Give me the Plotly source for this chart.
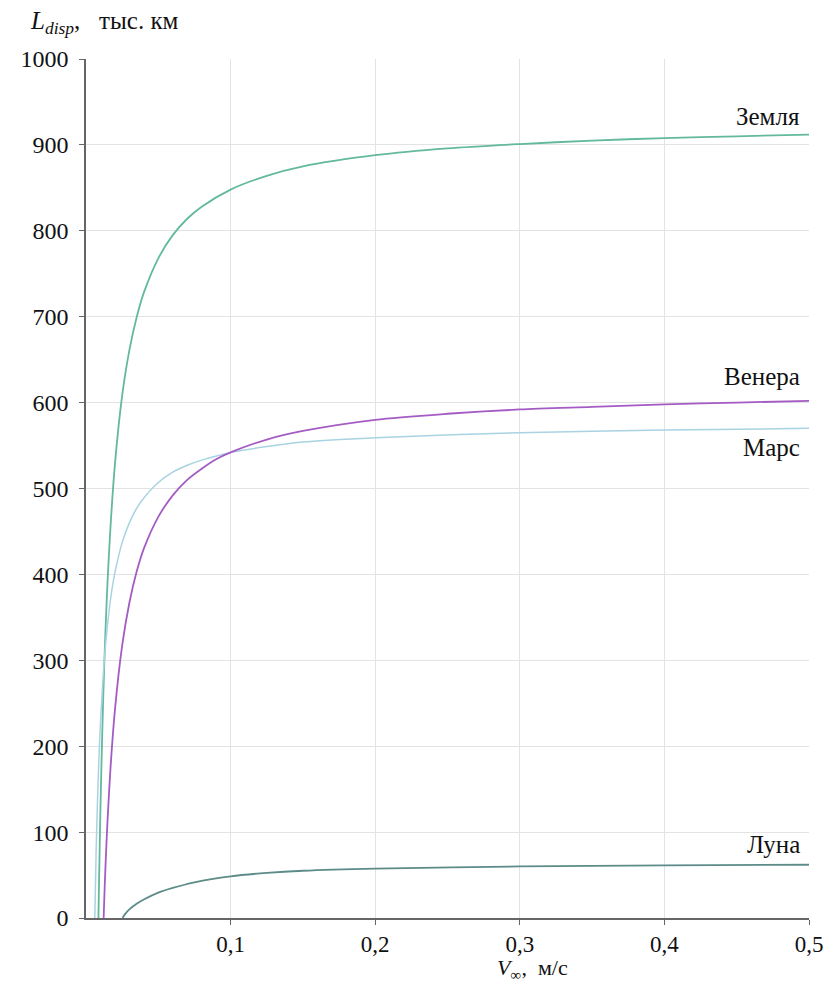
import plotly.graph_objects as go

# ---- data ----
earth_v = [0.0086, 0.009, 0.010, 0.011, 0.012, 0.013, 0.014, 0.015, 0.017, 0.020, 0.025, 0.030,
           0.035, 0.040, 0.050, 0.060, 0.070, 0.080, 0.100, 0.125, 0.150, 0.200, 0.250, 0.300,
           0.350, 0.400, 0.450, 0.500]
earth_L = [0, 40, 128, 200, 261, 313, 357, 395, 457, 528, 608, 661,
           699, 728, 768, 795, 814, 828, 848, 864, 875, 888, 896, 901,
           905, 908, 910, 912]

venus_v = [0.0122, 0.013, 0.014, 0.015, 0.017, 0.020, 0.025, 0.030, 0.035, 0.040, 0.050, 0.060,
           0.070, 0.080, 0.090, 0.100, 0.125, 0.150, 0.200, 0.250, 0.300, 0.350, 0.400, 0.450, 0.500]
venus_L = [0, 40, 81, 117, 176, 242, 317, 367, 403, 430, 467, 492,
           510, 523, 534, 542, 557, 567, 580, 587, 592, 595, 598, 600, 602]

mars_v = [0.0061, 0.007, 0.008, 0.009, 0.010, 0.012, 0.014, 0.016, 0.018, 0.020, 0.025, 0.030,
          0.035, 0.040, 0.050, 0.060, 0.070, 0.080, 0.100, 0.150, 0.200, 0.300, 0.400, 0.500]
mars_L = [0, 77, 139, 188, 227, 285, 327, 358, 383, 402, 437, 460,
          477, 489, 507, 519, 527, 533, 542, 554, 559, 565, 568, 570]

moon_v = [0.0253, 0.027, 0.030, 0.035, 0.040, 0.050, 0.060, 0.075, 0.100, 0.125, 0.150, 0.200,
          0.300, 0.400, 0.500]
moon_L = [0, 4.5, 10, 16.5, 21.5, 29.5, 35, 41.5, 48.5, 52.5, 55, 57.5, 60, 61.3, 62]

x_ticks = [0.1, 0.2, 0.3, 0.4, 0.5]
x_tick_text = ["0,1", "0,2", "0,3", "0,4", "0,5"]
y_ticks = [0, 100, 200, 300, 400, 500, 600, 700, 800, 900, 1000]
y_tick_text = [str(v) for v in y_ticks]

labels = ["Земля", "Венера", "Марс", "Луна"]
label_y = [933, 630, 548, 86]

FONT = "Liberation Serif, Times New Roman, serif"
TXT = "#111111"

# page body has an 8 px margin; compensate so the plot area lands where the reference has it
W, H = 828, 976
ML, MR, MT, MB = 71, 27, 51, 66
PW = W - ML - MR
PH = H - MT - MB

fig = go.Figure()
series = [
    (earth_v, earth_L, "#62b99c", 1.8),
    (mars_v, mars_L, "#a9d3e2", 1.5),
    (venus_v, venus_L, "#a45cc4", 1.8),
    (moon_v, moon_L, "#5d8c88", 1.8),
]
for xv, yv, col, w in series:
    fig.add_trace(go.Scatter(x=xv, y=yv, mode="lines",
                             line=dict(color=col, width=w, shape="spline", smoothing=0.8),
                             showlegend=False, hoverinfo="skip"))

for t, yv in zip(labels, label_y):
    fig.add_annotation(x=0.4955, y=yv, xref="x", yref="y", text=t, showarrow=False,
                       xanchor="right", yanchor="middle",
                       font=dict(family=FONT, size=25, color=TXT))

# axis titles as annotations (pixel targets converted to paper coords)
fig.add_annotation(x=(20 - 79) / PW, y=1 + (59 - 22) / PH, xref="paper", yref="paper",
                   text="<i>L</i><sub><i>disp</i></sub>,   тыс. км", showarrow=False,
                   xanchor="left", yanchor="middle",
                   font=dict(family=FONT, size=25, color=TXT))
fig.add_annotation(x=(530 - 79) / PW, y=-(969 - 918) / PH, xref="paper", yref="paper",
                   text="<i>V</i><sub>∞</sub>,  м/с", showarrow=False,
                   xanchor="center", yanchor="middle",
                   font=dict(family=FONT, size=22, color=TXT))

fig.update_layout(
    width=W, height=H,
    margin=dict(l=ML, r=MR, t=MT, b=MB),
    paper_bgcolor="white", plot_bgcolor="white",
    font=dict(family=FONT, size=24, color=TXT),
    xaxis=dict(range=[0, 0.5], tickvals=x_ticks, ticktext=x_tick_text,
               showgrid=True, gridcolor="#e3e3e3", gridwidth=1,
               showline=True, linecolor="#666", linewidth=1.5,
               ticks="outside", ticklen=5, tickcolor="#666",
               zeroline=False, tickfont=dict(family=FONT, size=23, color=TXT)),
    yaxis=dict(range=[0, 1000], tickvals=y_ticks, ticktext=y_tick_text,
               showgrid=True, gridcolor="#e3e3e3", gridwidth=1,
               showline=True, linecolor="#666", linewidth=1.5,
               ticks="outside", ticklen=5, tickcolor="#666",
               zeroline=False, tickfont=dict(family=FONT, size=24, color=TXT),
               ticklabelstandoff=6),
)

fig.write_html("out.html")
